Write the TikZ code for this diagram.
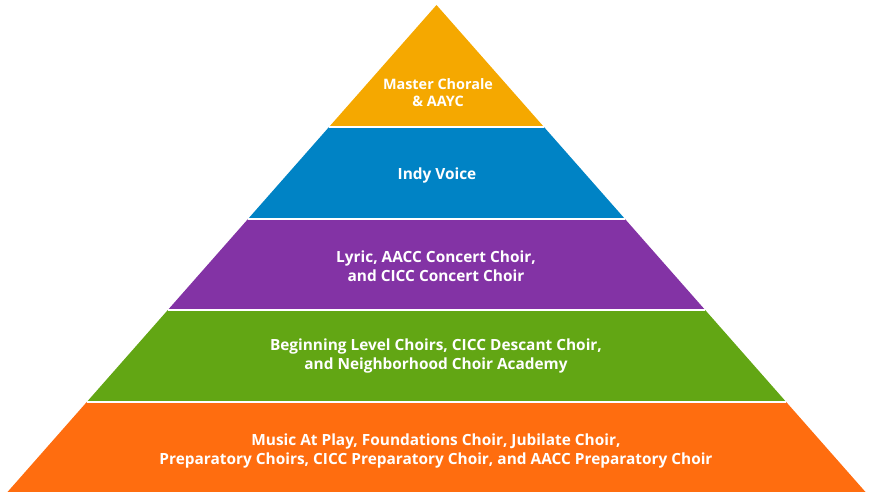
\documentclass[tikz,border=0pt]{standalone}
\usepackage{fontspec}
\setmainfont{Open Sans}
\usepackage{tikz}
\usetikzlibrary{calc,positioning}
\definecolor{tiergold}{RGB}{245,168,0}
\definecolor{tierblue}{RGB}{0,131,197}
\definecolor{tierpurple}{RGB}{131,51,165}
\definecolor{tiergreen}{RGB}{98,166,20}
\definecolor{tierorange}{RGB}{255,109,15}
\tikzset{
  tierlabel/.style={text=white,font=\fontsize{15.4}{19}\selectfont\bfseries,align=center,inner sep=0pt},
  toplabel/.style={tierlabel,font=\fontsize{14.4}{17}\selectfont\bfseries},
  tiergap/.style={white,line width=1.2pt}
}

\begin{document}
\begin{tikzpicture}[x=1pt,y=-1pt]
\useasboundingbox (0,0) rectangle (871,492);
\coordinate (T) at (436.5,5);
\coordinate (L) at (7.5,492);
\coordinate (R) at (865.5,492);
% tier corners along the two slopes
\coordinate (L1) at ($(T)!0.2505!(L)$);
\coordinate (R1) at ($(T)!0.2505!(R)$);
\coordinate (L2) at ($(T)!0.4394!(L)$);
\coordinate (R2) at ($(T)!0.4394!(R)$);
\coordinate (L3) at ($(T)!0.6263!(L)$);
\coordinate (R3) at ($(T)!0.6263!(R)$);
\coordinate (L4) at ($(T)!0.8152!(L)$);
\coordinate (R4) at ($(T)!0.8152!(R)$);
\fill[tiergold] (T) -- (R1) -- (L1) -- cycle;
\fill[tierblue] (L1) -- (R1) -- (R2) -- (L2) -- cycle;
\fill[tierpurple] (L2) -- (R2) -- (R3) -- (L3) -- cycle;
\fill[tiergreen] (L3) -- (R3) -- (R4) -- (L4) -- cycle;
\fill[tierorange] (L4) -- (R4) -- (R) -- (L) -- cycle;
\draw[tiergap] (L1) -- (R1);
\draw[tiergap] (L2) -- (R2);
\draw[tiergap] (L3) -- (R3);
\draw[tiergap] (L4) -- (R4);
\node[toplabel] (master) at (438,93) {Master Chorale\\\& AAYC};
\node[tierlabel] (indy) at (437,176) {Indy Voice};
\node[tierlabel] (lyric) at (436,266) {Lyric, AACC Concert Choir,\\and CICC Concert Choir};
\node[tierlabel] (beginning) at (436,356) {Beginning Level Choirs, CICC Descant Choir,\\and Neighborhood Choir Academy};
\node[tierlabel] (music) at (436,450.5) {Music At Play, Foundations Choir, Jubilate Choir,\\Preparatory Choirs, CICC Preparatory Choir, and AACC Preparatory Choir};
\end{tikzpicture}
\end{document}
